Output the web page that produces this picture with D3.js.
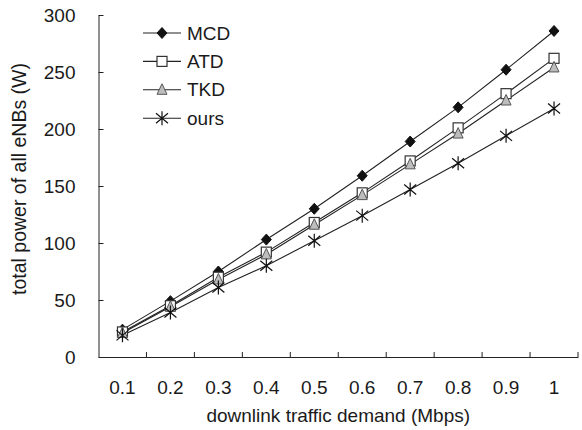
<!DOCTYPE html>
<html>
<head>
<meta charset="utf-8">
<script src="https://cdn.jsdelivr.net/npm/d3@7"></script>
<style>
  body { margin: 0; background: #fff; }
  svg { display: block; font-family: "Liberation Sans", Arial, sans-serif; }
  .axis text { font-size: 19px; fill: #1a1a1a; }
</style>
</head>
<body>
<div id="chart"></div>
<script>
// data
const demand = ['0.1', '0.2', '0.3', '0.4', '0.5', '0.6', '0.7', '0.8', '0.9', '1'];
const mcd  = [24, 49, 75, 103, 130, 159, 189, 219, 252, 286];
const atd  = [22, 45, 70, 92, 118, 144, 172, 201, 231, 262];
const tkd  = [21, 44, 68, 90, 116, 142, 169, 196, 225, 254];
const ours = [19, 39, 61, 80, 102, 124, 147, 170, 194, 218];
const seriesNames = ['MCD', 'ATD', 'TKD', 'ours'];
const yTicks = [0, 50, 100, 150, 200, 250, 300];

const width = 582, height = 430;
const plotLeft = 98.5, plotRight = 578, plotTop = 15, plotBottom = 357;
const ink = '#222';

const svg = d3.select('#chart').append('svg')
    .attr('width', width)
    .attr('height', height);

const x = d3.scaleBand().domain(demand).range([plotLeft, plotRight]).padding(0);
const y = d3.scaleLinear().domain([0, 300]).range([plotBottom, plotTop]);

// y axis, ticks pointing inward
svg.append('g')
    .attr('class', 'axis')
    .attr('transform', `translate(${plotLeft},0)`)
    .call(d3.axisLeft(y).tickValues(yTicks).tickSize(-5).tickSizeOuter(0).tickPadding(23))
    .call(g => g.selectAll('line, path').attr('stroke', ink));

// x axis: labels at band centres, ticks at band edges
const xAxis = svg.append('g')
    .attr('class', 'axis')
    .attr('transform', `translate(0,${plotBottom})`)
    .call(d3.axisBottom(x).tickSize(0).tickSizeOuter(0).tickPadding(24))
    .call(g => g.select('path').attr('stroke', ink));

const edges = demand.slice(1).map(d => x(d)).concat([x.range()[1]]);
xAxis.selectAll('.edge').data(edges)
    .join('line')
    .attr('class', 'edge')
    .attr('x1', d => d).attr('x2', d => d)
    .attr('y1', 0).attr('y2', -5)
    .attr('stroke', ink);

// axis titles
svg.append('text')
    .attr('x', (plotLeft + plotRight) / 2)
    .attr('y', 422)
    .attr('text-anchor', 'middle')
    .style('font-size', '19px')
    .attr('fill', '#1a1a1a')
    .text('downlink traffic demand (Mbps)');

svg.append('text')
    .attr('transform', 'translate(26,179) rotate(-90)')
    .attr('text-anchor', 'middle')
    .style('font-size', '19.5px')
    .attr('fill', '#1a1a1a')
    .text('total power of all eNBs (W)');

// markers
function drawMarker(g, name) {
    if (name === 'MCD') {
        g.append('path').attr('d', 'M0,-5.5L5,0L0,5.5L-5,0Z').attr('fill', '#111').attr('stroke', '#111');
    } else if (name === 'ATD') {
        g.append('rect').attr('x', -5).attr('y', -5).attr('width', 10).attr('height', 10)
            .attr('fill', '#fff').attr('stroke', '#333').attr('stroke-width', 1.2);
    } else if (name === 'TKD') {
        g.append('path').attr('d', 'M0,-6L5,4.5L-5,4.5Z')
            .attr('fill', '#bdbdbd').attr('stroke', '#555').attr('stroke-width', 1);
    } else {
        g.append('path').attr('d', 'M-6,-5L6,5M-6,5L6,-5M0,-7L0,7')
            .attr('fill', 'none').attr('stroke', '#111').attr('stroke-width', 1.2);
    }
}

const allSeries = [mcd, atd, tkd, ours];
const line = d3.line()
    .x((d, i) => x(demand[i]) + x.bandwidth() / 2)
    .y(d => y(d));

allSeries.forEach((vals, k) => {
    svg.append('path')
        .attr('d', line(vals))
        .attr('fill', 'none')
        .attr('stroke', ink)
        .attr('stroke-width', 1.1);
});

allSeries.forEach((vals, k) => {
    svg.selectAll(null).data(vals)
        .join('g')
        .attr('transform', (d, i) => `translate(${x(demand[i]) + x.bandwidth() / 2},${y(d)})`)
        .each(function () { drawMarker(d3.select(this), seriesNames[k]); });
});

// legend
const legend = svg.append('g').attr('transform', 'translate(143,33)');
seriesNames.forEach((name, i) => {
    const row = legend.append('g').attr('transform', `translate(0,${i * 28.4})`);
    row.append('line').attr('x1', 0).attr('x2', 38).attr('y1', 0).attr('y2', 0)
        .attr('stroke', ink).attr('stroke-width', 1.1);
    drawMarker(row.append('g').attr('transform', 'translate(19,0)'), name);
    row.append('text')
        .attr('x', 44)
        .attr('dy', '0.35em')
        .style('font-size', '19px')
        .attr('fill', '#1a1a1a')
        .text(name);
});
</script>
</body>
</html>
